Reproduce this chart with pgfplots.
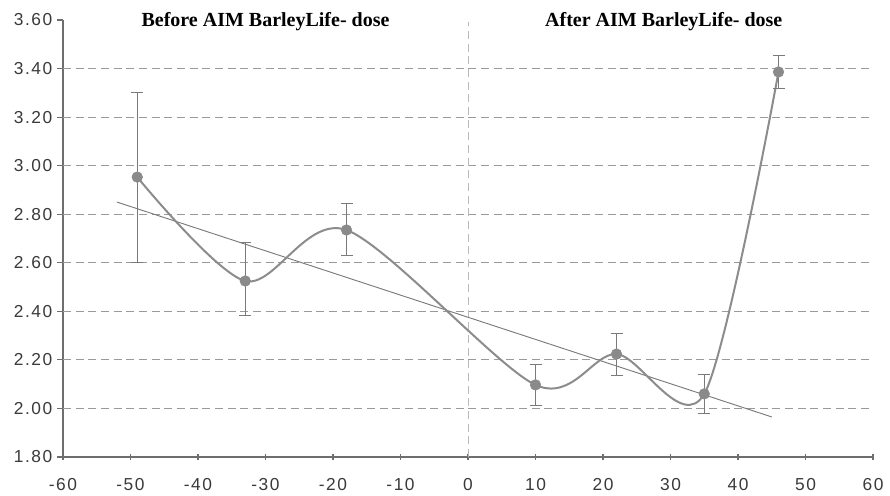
\documentclass[border=0pt]{standalone}
\usepackage{fontspec}
\setmainfont{Liberation Sans}
\newfontfamily\tickfont[LetterSpace=9]{Liberation Sans}
\newfontfamily\titlefont{Liberation Serif}
\usepackage{pgfplots}
\usepackage{pgfplotstable}
\pgfplotsset{compat=1.18}
\definecolor{axisgray}{HTML}{6E6E6E}
\definecolor{gridgray}{HTML}{9A9A9A}
\definecolor{curvegray}{HTML}{8C8C8C}
\definecolor{markgray}{HTML}{8A8A8A}
\definecolor{trendgray}{HTML}{7A7A7A}
\definecolor{labgray}{HTML}{3A3A3A}

\pgfplotstableread{
x    y      ep     em
-49  2.953  0.347  0.353
-33  2.525  0.157  0.140
-18  2.735  0.111  0.103
10   2.097  0.083  0.083
22   2.224  0.086  0.090
35   2.060  0.082  0.080
46   3.386  0.066  0.066
}\datatable

\begin{document}
\begin{tikzpicture}
\path[use as bounding box] (-47.25pt,-29.25pt) rectangle (620.25pt,342.75pt);
\begin{axis}[
  at={(0pt,0pt)}, anchor=south west,
  scale only axis, width=607.5pt, height=327.75pt,
  xmin=-60, xmax=60, ymin=1.8, ymax=3.6,
  xtick={-60,-50,-40,-30,-20,-10,0,10,20,30,40,50,60},
  ytick={1.8,2.0,2.2,2.4,2.6,2.8,3.0,3.2,3.4,3.6},
  axis x line*=bottom, axis y line*=left,
  axis line style={axisgray, line width=1.1pt, -},
  x tick style={axisgray, line width=0.8pt},
  y tick style={axisgray, line width=0.8pt},
  xtick align=center, ytick align=outside,
  major tick length=4.5pt,
  tick label style={font=\tickfont\fontsize{13}{15}\selectfont, text=labgray},
  /pgf/number format/assume math mode=true,
  yticklabel style={/pgf/number format/.cd, fixed, fixed zerofill, precision=2},
  xticklabel style={yshift=-10pt},
  clip=false,
]
\foreach \yy in {2.0,2.2,2.4,2.6,2.8,3.0,3.2,3.4}{
  \edef\tmp{\noexpand\draw[gridgray, dash pattern=on 6pt off 3.5pt, line width=0.7pt] (axis cs:-60,\yy) -- (axis cs:60,\yy);}
  \tmp
}
\draw[gray!55, dash pattern=on 6pt off 3.5pt, line width=0.7pt] (axis cs:0,1.8) -- (axis cs:0,3.59);

\addplot[trendgray, line width=0.7pt] coordinates {(-52,2.850) (45,1.965)};
\addplot[curvegray, line width=1.5pt, smooth, tension=0.5] table[x=x, y=y] {\datatable};
\addplot[only marks, mark=*, mark size=4pt, mark options={fill=markgray, draw=markgray},
  error bars/.cd, y dir=both, y explicit,
  error bar style={trendgray, line width=0.7pt},
  error mark options={trendgray, line width=0.7pt, mark size=4.5pt, rotate=90}]
  table[x=x, y=y, y error plus=ep, y error minus=em] {\datatable};

\node[font=\titlefont\bfseries\fontsize{15}{17}\selectfont] at (axis cs:-30,3.595) {Before AIM BarleyLife- dose};
\node[font=\titlefont\bfseries\fontsize{15}{17}\selectfont] at (axis cs:29,3.595) {After AIM BarleyLife- dose};
\end{axis}
\end{tikzpicture}
\end{document}
